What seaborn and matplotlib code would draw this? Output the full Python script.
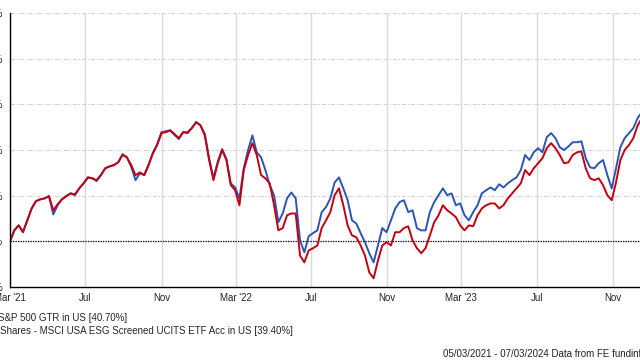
import matplotlib.pyplot as plt
import pandas as pd
import seaborn as sns

# weekly cumulative total return (%), starting 05/03/2021
start_date = "2021-03-05"
end_date = "2024-03-07"

sp500_name = "S&P 500 GTR in US [40.70%]"
esg_name = "iShares - MSCI USA ESG Screened UCITS ETF Acc in US [39.40%]"

sp500 = [
    0.0, 2.4, 3.5, 2.0, 4.6, 7.2, 8.8, 9.2, 9.4, 9.9,
    5.9, 7.9, 9.2, 9.9, 10.5, 10.1, 11.6, 12.7, 14.0, 13.8,
    13.2, 14.5, 16.0, 16.4, 16.7, 17.3, 19.1, 18.4, 16.3, 13.4,
    14.9, 14.5, 16.7, 19.3, 21.3, 23.9, 24.1, 24.3, 23.3, 22.4,
    23.9, 23.9, 24.8, 26.1, 25.4, 23.5, 18.2, 13.8, 17.5, 20.2,
    18.0, 12.7, 11.8, 9.4, 16.0, 20.0, 23.2, 19.5, 18.4, 15.6,
    12.3, 10.1, 4.2, 6.1, 9.4, 10.7, 9.4, 0.2, -2.4, 1.1,
    1.8, 2.4, 6.4, 7.5, 9.4, 12.9, 14.0, 11.6, 9.0, 4.6,
    3.9, 1.8, -0.2, -2.6, -4.6, -0.9, 2.9, 2.0, 4.6, 7.2,
    8.6, 9.0, 6.4, 6.8, 2.9, 2.4, 2.4, 6.4, 8.6, 10.1,
    11.6, 10.1, 10.5, 7.9, 8.3, 5.7, 4.6, 6.4, 7.9, 10.5,
    11.2, 11.8, 11.2, 12.5, 11.8, 12.7, 13.4, 14.0, 15.6, 18.9,
    17.8, 19.5, 20.4, 19.5, 22.8, 23.7, 22.6, 20.6, 20.0, 20.8,
    21.7, 21.7, 21.9, 18.2, 16.2, 16.0, 17.1, 17.8, 14.5, 11.6,
    16.0, 20.6, 22.6, 23.7, 24.8, 27.0, 28.3,
]

esg = [
    0.0, 2.4, 3.5, 2.0, 4.6, 7.2, 8.8, 9.2, 9.4, 9.9,
    6.8, 8.1, 9.2, 9.9, 10.5, 10.3, 11.6, 12.7, 14.0, 13.8,
    13.4, 14.5, 16.0, 16.4, 16.7, 17.3, 18.9, 18.4, 16.7, 14.5,
    15.1, 14.5, 16.7, 19.3, 21.1, 23.7, 23.9, 24.3, 23.5, 22.6,
    23.9, 23.7, 24.8, 26.1, 25.4, 23.2, 17.8, 13.4, 17.1, 20.0,
    17.8, 12.3, 11.2, 7.9, 15.6, 18.9, 21.5, 18.9, 14.5, 13.8,
    12.7, 7.9, 2.4, 2.9, 5.7, 6.1, 6.1, -3.1, -4.6, -2.0,
    -1.5, -0.9, 2.9, 4.6, 6.4, 10.1, 11.6, 7.9, 3.5, 1.3,
    0.9, -0.9, -3.1, -6.8, -8.1, -4.2, -0.9, -0.2, -0.9, 2.0,
    2.0, 2.9, 3.3, 0.2, -1.5, -2.6, -1.5, 1.3, 4.2, 5.7,
    7.9, 6.8, 6.1, 5.3, 3.5, 2.4, 3.5, 3.3, 5.7, 7.2,
    7.9, 8.3, 8.3, 7.2, 7.9, 9.4, 10.5, 11.6, 12.7, 15.6,
    14.5, 16.0, 17.1, 18.2, 20.4, 21.5, 20.4, 18.9, 17.1, 17.3,
    18.9, 19.5, 19.7, 16.0, 13.8, 13.4, 13.8, 12.3, 10.1, 9.0,
    12.9, 17.8, 20.0, 21.1, 22.6, 25.4, 27.0,
]

y_ticks = [-10, 0, 10, 20, 30, 40, 50]
x_tick_labels = ["Mar '21", "Jul", "Nov", "Mar '22", "Jul", "Nov", "Mar '23", "Jul", "Nov"]

dates = pd.date_range(start_date, periods=len(esg), freq="7D")
df = pd.DataFrame({"date": dates, sp500_name: sp500, esg_name: esg})
df = df.melt(id_vars="date", var_name="series", value_name="value")

sns.set_style("white")
plt.rcParams["font.family"] = ["Liberation Sans", "DejaVu Sans"]

fig = plt.figure(figsize=(6.4, 3.6), dpi=100)
# the source image is a crop: axes run past the left/right edges of the figure
ax = fig.add_axes([10 / 640, 73 / 360, 679 / 640, 274 / 360])

sns.lineplot(
    data=df, x="date", y="value", hue="series",
    hue_order=[sp500_name, esg_name],
    palette=["#2b55b5", "#c40010"],
    linewidth=1.4, ax=ax,
)
handles, labels = ax.get_legend_handles_labels()
ax.get_legend().remove()

ax.axhline(0, color="black", lw=0.9, ls=(0, (1, 1)), zorder=1)

tick_dates = pd.date_range(start_date, periods=len(x_tick_labels),
                           freq=pd.DateOffset(months=4))
ax.set_xticks(tick_dates)
ax.set_xticklabels(x_tick_labels)
ax.set_yticks(y_ticks)
ax.set_yticklabels([f"{v}%" for v in y_ticks])
ax.set_xlim(pd.Timestamp(start_date), pd.Timestamp(end_date))
ax.set_ylim(-10, 50)
ax.set_xlabel("")
ax.set_ylabel("")

ax.grid(axis="x", color="#dadada", lw=1.0, ls="-")
ax.grid(axis="y", color="#d2d2d2", lw=0.8, ls=(0, (4, 1.5, 1, 1.5)))
ax.set_axisbelow(True)

for side in ["top", "right"]:
    ax.spines[side].set_visible(False)
for side in ["left", "bottom"]:
    ax.spines[side].set_color("black")
    ax.spines[side].set_linewidth(1.0)

ax.tick_params(axis="x", length=3, width=0.8, color="black", pad=1,
               labelsize=7, labelcolor="#222222")
ax.tick_params(axis="y", length=0, pad=5, labelsize=7, labelcolor="#222222")

fig.legend(
    handles, labels, loc="upper left", bbox_to_anchor=(-21 / 640, 1 - 313 / 360),
    frameon=False, fontsize=7, borderaxespad=0, borderpad=0,
    handlelength=1.5, handletextpad=0.5, labelspacing=0.35,
)

fig.text(443 / 640, 1 - 357 / 360,
         "05/03/2021 - 07/03/2024 Data from FE fundinfo2024",
         fontsize=7, color="#222222", ha="left", va="baseline")

plt.savefig("out.png", dpi=100)
